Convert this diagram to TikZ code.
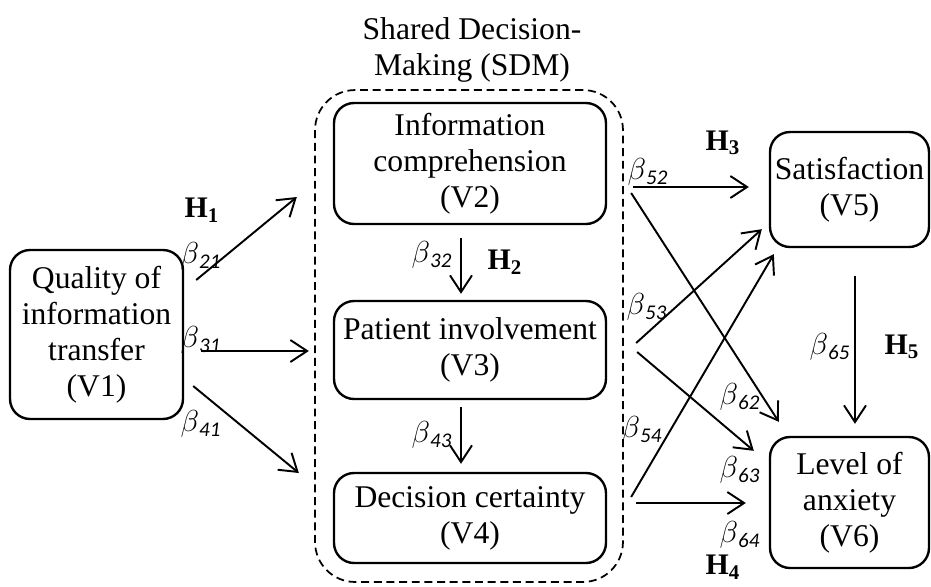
\documentclass[tikz,border=0pt]{standalone}
\usepackage{fontspec}
\setmainfont{Liberation Serif}
\newfontfamily\carl{Carlito}
\usetikzlibrary{arrows.meta,calc}

\tikzstyle{var}=[draw,rounded corners=0.4cm,line width=1.35pt,align=center,inner sep=0pt,font=\fontsize{18}{20.5}\selectfont]
\tikzstyle{sdm}=[draw,dash pattern=on 4.5pt off 2.7pt,rounded corners=0.8cm,line width=1pt,inner sep=0pt]
\tikzstyle{coef}=[inner sep=0pt,font=\fontsize{17}{20}\selectfont]
\tikzstyle{hyp}=[inner sep=0pt,font=\fontsize{17}{20}\selectfont\bfseries]
\tikzstyle{arr}=[-{Straight Barb[length=9.5pt,width=12.5pt,line width=1.1pt]},line width=1.1pt]

\newcommand{\bcoef}[1]{$\beta$\textsubscript{\carl\itshape #1}}
\newcommand{\hname}[1]{H\textsubscript{#1}}

\begin{document}
\begin{tikzpicture}[x=0.02cm,y=-0.02cm]
\useasboundingbox (0,0) rectangle (931,586);
% SDM block
\node[sdm,minimum width=6.16cm,minimum height=9.84cm] (sdm) at (469,336) {};
\node[align=center,font=\fontsize{18}{20.5}\selectfont] (sdmtitle) at (472,50) {Shared Decision-\\Making (SDM)};
% variables
\node[var,minimum width=3.46cm,minimum height=3.38cm] (v1) at (96.5,334.5) {Quality of\\information\\transfer\\(V1)};
\node[var,minimum width=5.44cm,minimum height=2.42cm] (v2) at (470,163.5) {Information\\comprehension\\(V2)};
\node[var,minimum width=5.44cm,minimum height=1.96cm] (v3) at (470,350) {Patient involvement\\(V3)};
\node[var,minimum width=5.44cm,minimum height=1.8cm] (v4) at (470,518) {Decision certainty\\(V4)};
\node[var,minimum width=3.18cm,minimum height=2.3cm] (v5) at (849.5,189.5) {Satisfaction\\(V5)};
\node[var,minimum width=3.18cm,minimum height=2.62cm] (v6) at (849.5,502.5) {Level of\\anxiety\\(V6)};
% paths
\draw[arr] ($(v1.east)+(12,-54.5)$) -- ($(v2.west)+(-36,33.5)$);
\draw[arr] ($(v1.east)+(17,16.5)$) -- ($(v3.west)+(-24,1)$);
\draw[arr] ($(v1.east)+(9,51.5)$) -- ($(v4.west)+(-34,-45)$);
\draw[arr] ($(v2.south)+(-9,13)$) -- ($(v3.north)+(-9,-6)$);
\draw[arr] ($(v3.south)+(-9,7)$) -- ($(v4.north)+(-9,-8)$);
\draw[arr] ($(v2.east)+(26,23.5)$) -- ($(v5.west)+(-20,-2.5)$);
\draw[arr] ($(v2.east)+(24,29.5)$) -- ($(v6.north west)+(10,-14)$);
\draw[arr] ($(v3.east)+(29,-7)$) -- ($(v5.south west)+(-7,-19)$);
\draw[arr] ($(v3.east)+(30,2)$) -- ($(v6.north west)+(-15,15)$);
\draw[arr] ($(v4.east)+(24,-21)$) -- ($(v5.south west)+(5,6)$);
\draw[arr] ($(v4.east)+(29,-15)$) -- ($(v6.west)+(-23,0.5)$);
\draw[arr] ($(v5.south)+(5.5,28)$) -- ($(v6.north)+(5.5,-12)$);
% labels
\node[coef] (b21) at (201,256) {\bcoef{21}};
\node[hyp] (h1) at (202,210) {\hname{1}};
\node[coef] (b31) at (201,340) {\bcoef{31}};
\node[coef] (b41) at (201,424) {\bcoef{41}};
\node[coef] (b32) at (432,255) {\bcoef{32}};
\node[hyp] (h2) at (505,262) {\hname{2}};
\node[coef] (b43) at (432,435) {\bcoef{43}};
\node[coef] (b52) at (648,172) {\bcoef{52}};
\node[hyp] (h3) at (723,143) {\hname{3}};
\node[coef] (b53) at (647,307) {\bcoef{53}};
\node[coef] (b54) at (642,430) {\bcoef{54}};
\node[coef] (b62) at (740,397) {\bcoef{62}};
\node[coef] (b63) at (740,470) {\bcoef{63}};
\node[coef] (b64) at (740,535) {\bcoef{64}};
\node[hyp] (h4) at (723,567) {\hname{4}};
\node[coef] (b65) at (830,347) {\bcoef{65}};
\node[hyp] (h5) at (902,347) {\hname{5}};
\end{tikzpicture}
\end{document}
